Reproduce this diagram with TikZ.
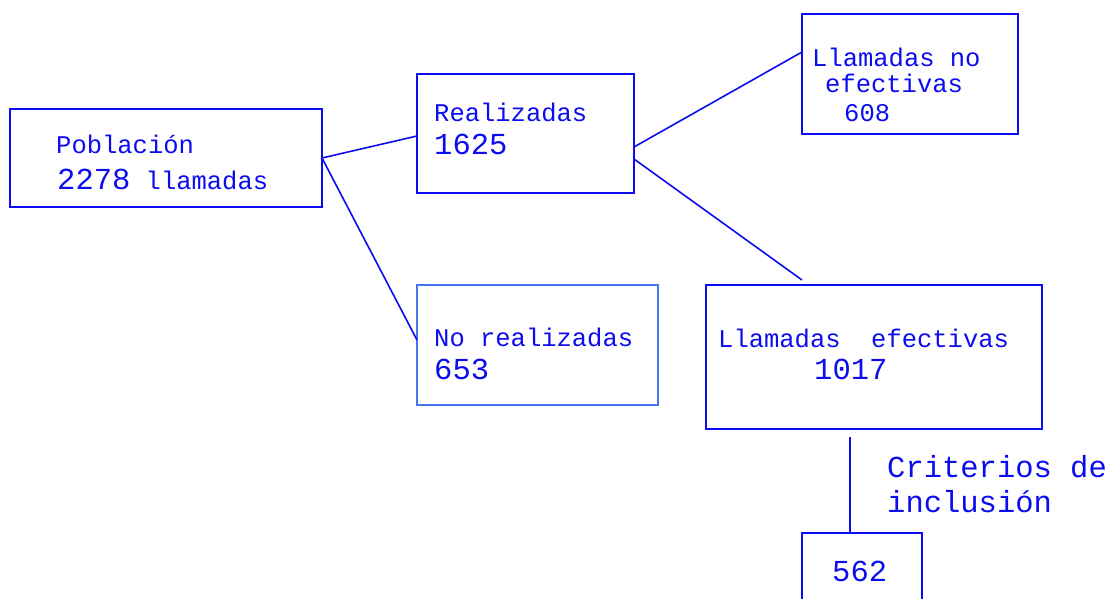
\documentclass[tikz,border=0pt]{standalone}
\usepackage{fontspec}
\setmainfont{Liberation Mono}

\definecolor{lineblue}{RGB}{12,12,240}
\definecolor{softblue}{RGB}{72,118,242}
\newcommand{\smallsz}{\fontsize{25.5}{28}\selectfont}
\newcommand{\bigsz}{\fontsize{30.5}{34}\selectfont}

\begin{document}
\begin{tikzpicture}[x=1pt, y=-1pt,
	box/.style={draw=lineblue, line width=1.8pt, anchor=north west, inner sep=0pt, outer sep=0pt},
	txt/.style={anchor=base west, inner sep=0pt, text=lineblue, font=\smallsz},
	num/.style={txt, font=\bigsz},
	link/.style={draw=lineblue, line width=1.6pt}]

				\useasboundingbox (0,0) rectangle (1111,598);

				% Boxes
				\node[box, minimum width=312pt, minimum height=98pt] (pob) at (10,109) {};
				\node[box, minimum width=217pt, minimum height=119pt] (real) at (417,74) {};
				\node[box, draw=softblue, minimum width=241pt, minimum height=120pt] (noreal) at (417,285) {};
				\node[box, minimum width=216pt, minimum height=120pt] (noefec) at (802,14) {};
				\node[box, minimum width=336pt, minimum height=144pt] (efec) at (706,285) {};
				\node[box, minimum width=120pt, minimum height=80pt] (incl) at (802,533) {};

				% Free ends
				\coordinate (efecin) at (802,280);
				\coordinate (critop) at (850,437);

				% Lines
				\draw[link] (pob.east) -- ([yshift=-2.5pt]real.west);
				\draw[link] (pob.east) -- ([yshift=5pt]noreal.west);
				\draw[link] ([yshift=-13.5pt]real.east) -- ([yshift=22pt]noefec.west);
				\draw[link] ([yshift=-25.5pt]real.east) -- (efecin);
				\draw[link] (critop) -- (critop |- incl.north);

				% Texts
				\node[txt] (pobname) at (56,153) {Población};
				\node[txt] (pobnum) at (57,189) {{\bigsz 2278} llamadas};
				\node[txt] (realname) at (434,121) {Realizadas};
				\node[num] (realnum) at (434,154) {1625};
				\node[txt] (norealname) at (434,346) {No realizadas};
				\node[num] (norealnum) at (434,379) {653};
				\node[txt] (noefecname) at (812,66) {Llamadas no};
				\node[txt] (noefecsub) at (825,92) {efectivas};
				\node[txt] (noefecnum) at (844,121) {608};
				\node[txt] (efecname) at (718,347) {Llamadas\ \ efectivas};
				\node[num] (efecnum) at (814,379) {1017};
				\node[num] (critname) at (887,477) {Criterios de};
				\node[num] (critsub) at (887,512) {inclusión};
				\node[num] (inclnum) at (832,581) {562};
			\end{tikzpicture}
\end{document}
